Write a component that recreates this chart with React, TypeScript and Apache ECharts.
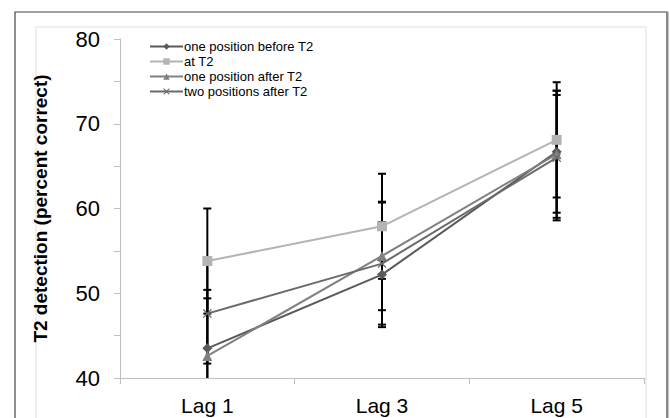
import React, { useEffect, useRef } from "react";
import * as echarts from "echarts";

const categories = ["Lag 1", "Lag 3", "Lag 5"];
const seriesNames = [
  "one position before T2",
  "at T2",
  "one position after T2",
  "two positions after T2",
];
const beforeT2 = [43.5, 52.2, 66.7];
const atT2 = [53.8, 57.9, 68.1];
const afterT2 = [42.6, 54.4, 66.4];
const twoAfterT2 = [47.6, 53.5, 66.0];
const beforeErr = [6.9, 6.2, 7.2];
const atErr = [6.2, 6.2, 6.8];
const afterErr = [6.8, 6.4, 7.5];
const twoAfterErr = [5.9, 7.2, 7.4];
const yTicks = [40, 50, 60, 70, 80];

const xSymbol =
  "path://M0,1 L1,0 L5,4 L9,0 L10,1 L6,5 L10,9 L9,10 L5,6 L1,10 L0,9 L4,5 Z";

export default function App() {
  const ref = useRef<HTMLDivElement>(null);
  useEffect(() => {
    document.body.style.margin = "0";
    const chart = echarts.init(ref.current!, undefined, { renderer: "svg" });
    const values = [beforeT2, atT2, afterT2, twoAfterT2];
    const errs = [beforeErr, atErr, afterErr, twoAfterErr];
    const colors = ["#5a5a5a", "#b4b4b4", "#808080", "#6a6a6a"];
    const symbols = ["diamond", "rect", "triangle", xSymbol];
    const sizes = [10, 10, 10, 9];
    const errData: number[][] = [];
    values.forEach((vals, s) => {
      vals.forEach((v, i) => {
        errData.push([i, v - errs[s][i], v + errs[s][i]]);
      });
    });
    const font = "'Liberation Sans', Arial, sans-serif";
    chart.setOption({
      animation: false,
      backgroundColor: "#ffffff",
      graphic: [
        {
          type: "rect",
          shape: { x: 15, y: 12, width: 652, height: 430 },
          style: { fill: "none", stroke: "#444444", lineWidth: 1.2 },
          z: -10,
        },
        {
          type: "line",
          shape: { x1: 667.5, y1: 12, x2: 667.5, y2: 430 },
          style: { stroke: "#888888", lineWidth: 2 },
          z: -10,
        },
        {
          type: "rect",
          shape: { x: 36, y: 27, width: 610, height: 420 },
          style: { fill: "none", stroke: "#efefef", lineWidth: 2 },
          z: -10,
        },
      ],
      grid: { left: 120, right: 26, top: 39, bottom: 40, containLabel: false },
      legend: {
        data: seriesNames,
        orient: "vertical",
        left: 149,
        top: 40,
        padding: 0,
        itemGap: 2,
        itemWidth: 33,
        itemHeight: 8,
        textStyle: {
          fontFamily: font,
          fontSize: 13,
          lineHeight: 13,
          color: "#000",
          padding: [0, 0, 0, -4],
        },
      },
      xAxis: {
        type: "category",
        data: categories,
        boundaryGap: true,
        axisLine: { lineStyle: { color: "#bfbfbf", width: 1 } },
        axisTick: { show: true, length: 6, lineStyle: { color: "#bfbfbf" } },
        axisLabel: { fontFamily: font, fontSize: 21, color: "#000", margin: 17 },
      },
      yAxis: {
        type: "value",
        min: 40,
        max: 80,
        interval: 5,
        name: "T2 detection (percent correct)",
        nameLocation: "middle",
        nameRotate: 90,
        nameGap: 70,
        nameTextStyle: { fontFamily: font, fontSize: 19, fontWeight: "bold", color: "#000" },
        axisLine: { show: true, lineStyle: { color: "#bfbfbf", width: 1 } },
        axisTick: { show: true, length: 6, lineStyle: { color: "#bfbfbf" } },
        splitLine: { show: false },
        axisLabel: {
          fontFamily: font,
          fontSize: 22,
          color: "#000",
          margin: 20,
          formatter: (v: number) => (yTicks.includes(v) ? String(v) : ""),
        },
      },
      series: [
        {
          type: "custom",
          name: "err",
          clip: true,
          z: 1,
          data: errData,
          renderItem: (params: any, api: any) => {
            const x = api.value(0);
            const lo = api.coord([x, api.value(1)]);
            const hi = api.coord([x, api.value(2)]);
            const w = 4;
            const style = { stroke: "#000", lineWidth: 2 };
            return {
              type: "group",
              children: [
                { type: "line", shape: { x1: lo[0], y1: lo[1], x2: hi[0], y2: hi[1] }, style },
                { type: "line", shape: { x1: lo[0] - w, y1: lo[1], x2: lo[0] + w, y2: lo[1] }, style },
                { type: "line", shape: { x1: hi[0] - w, y1: hi[1], x2: hi[0] + w, y2: hi[1] }, style },
              ],
            };
          },
        },
        ...values.map((vals, s) => ({
          type: "line",
          name: seriesNames[s],
          data: vals,
          z: 3,
          symbol: symbols[s],
          symbolSize: sizes[s],
          showSymbol: true,
          lineStyle: { color: colors[s], width: 2 },
          itemStyle: { color: colors[s] },
        })),
      ],
    });
    return () => chart.dispose();
  }, []);
  return <div ref={ref} style={{ width: 670, height: 418 }} />;
}
